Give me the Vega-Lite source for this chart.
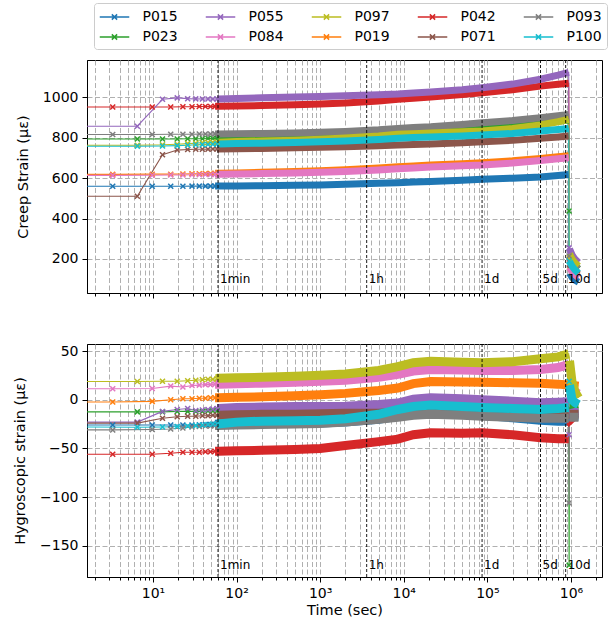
{
"$schema":"https://vega.github.io/schema/vega-lite/v6.json",
"padding":{"left":12,"top":2,"right":0,"bottom":2},
"config":{
 "font":"DejaVu Sans",
 "view":{"stroke":"black","strokeWidth":1},
 "axis":{"domainColor":"black","tickColor":"black","labelColor":"black","titleColor":"black","labelFontSize":14,"titleFontSize":14.5,"titleFontWeight":"normal","gridColor":"#b0b0b0","gridDash":[5,2.5],"gridWidth":1,"tickWidth":1,"domainWidth":1,"labelPadding":4,"titlePadding":12,"labelFont":"DejaVu Sans","titleFont":"DejaVu Sans"},
 "concat":{"spacing":44}
},
"datasets":{
"ev":[{"lab":"1min","t":60},{"lab":"1h","t":3600},{"lab":"1d","t":86400},{"lab":"5d","t":432000},{"lab":"10d","t":864000}],
"d":[
{"id":"P015","t":1,"c":559,"h":-26,"ph":"load"},
{"id":"P015","t":3.3,"c":559,"h":-26,"ph":"load"},
{"id":"P015","t":9.8,"c":559,"h":-26,"ph":"load"},
{"id":"P015","t":16.3,"c":559,"h":-26,"ph":"load"},
{"id":"P015","t":22.8,"c":559,"h":-26,"ph":"load"},
{"id":"P015","t":29.3,"c":560,"h":-26,"ph":"load"},
{"id":"P015","t":35.8,"c":560,"h":-25.8,"ph":"load"},
{"id":"P015","t":42.3,"c":560,"h":-25.5,"ph":"load"},
{"id":"P015","t":48.8,"c":560,"h":-25.5,"ph":"load"},
{"id":"P015","t":55.3,"c":560,"h":-25.2,"ph":"load"},
{"id":"P015","t":60,"c":560,"h":-25,"ph":"load"},
{"id":"P015","t":100,"c":561,"h":-24.5,"ph":"load"},
{"id":"P015","t":200,"c":562,"h":-24.5,"ph":"load"},
{"id":"P015","t":500,"c":564,"h":-24.5,"ph":"load"},
{"id":"P015","t":1000,"c":566,"h":-24,"ph":"load"},
{"id":"P015","t":2000,"c":569,"h":-23,"ph":"load"},
{"id":"P015","t":5000,"c":574,"h":-20,"ph":"load"},
{"id":"P015","t":8500,"c":577,"h":-17,"ph":"load"},
{"id":"P015","t":13000,"c":580,"h":-14.5,"ph":"load"},
{"id":"P015","t":21000,"c":583,"h":-13.6,"ph":"load"},
{"id":"P015","t":50000,"c":589,"h":-15,"ph":"load"},
{"id":"P015","t":86400,"c":594,"h":-16,"ph":"load"},
{"id":"P015","t":200000,"c":599,"h":-18.5,"ph":"load"},
{"id":"P015","t":432000,"c":605,"h":-21,"ph":"load"},
{"id":"P015","t":700000,"c":612,"h":-22,"ph":"load"},
{"id":"P015","t":940000,"c":617,"h":-22,"ph":"load"},
{"id":"P015","t":960000,"c":130,"h":-18,"ph":"unload"},
{"id":"P015","t":1030000,"c":110,"h":-18,"ph":"unload"},
{"id":"P015","t":1120000,"c":95,"h":-17,"ph":"unload"},
{"id":"P015","t":1230000,"c":86,"h":-17,"ph":"unload"},
{"id":"P019","t":1,"c":618,"h":-2.4,"ph":"load"},
{"id":"P019","t":3.3,"c":618,"h":-2.4,"ph":"load"},
{"id":"P019","t":9.8,"c":619,"h":-1.7,"ph":"load"},
{"id":"P019","t":16.3,"c":619,"h":0,"ph":"load"},
{"id":"P019","t":22.8,"c":620,"h":1,"ph":"load"},
{"id":"P019","t":29.3,"c":621,"h":1,"ph":"load"},
{"id":"P019","t":35.8,"c":621,"h":1.5,"ph":"load"},
{"id":"P019","t":42.3,"c":622,"h":1.5,"ph":"load"},
{"id":"P019","t":48.8,"c":622,"h":2,"ph":"load"},
{"id":"P019","t":55.3,"c":623,"h":2,"ph":"load"},
{"id":"P019","t":60,"c":623,"h":2,"ph":"load"},
{"id":"P019","t":100,"c":625,"h":2.5,"ph":"load"},
{"id":"P019","t":200,"c":628,"h":3,"ph":"load"},
{"id":"P019","t":500,"c":632,"h":4,"ph":"load"},
{"id":"P019","t":1000,"c":636,"h":5,"ph":"load"},
{"id":"P019","t":2000,"c":641,"h":6.5,"ph":"load"},
{"id":"P019","t":5000,"c":650,"h":9.5,"ph":"load"},
{"id":"P019","t":8500,"c":656,"h":12,"ph":"load"},
{"id":"P019","t":13000,"c":660,"h":16.5,"ph":"load"},
{"id":"P019","t":21000,"c":664,"h":18.6,"ph":"load"},
{"id":"P019","t":50000,"c":671,"h":18.3,"ph":"load"},
{"id":"P019","t":86400,"c":676,"h":18,"ph":"load"},
{"id":"P019","t":200000,"c":685,"h":17.5,"ph":"load"},
{"id":"P019","t":432000,"c":697,"h":17,"ph":"load"},
{"id":"P019","t":700000,"c":705,"h":16,"ph":"load"},
{"id":"P019","t":940000,"c":710,"h":15,"ph":"load"},
{"id":"P019","t":960000,"c":160,"h":15,"ph":"unload"},
{"id":"P019","t":1030000,"c":140,"h":15,"ph":"unload"},
{"id":"P019","t":1120000,"c":125,"h":14.5,"ph":"unload"},
{"id":"P019","t":1230000,"c":112,"h":14,"ph":"unload"},
{"id":"P023","t":1,"c":793,"h":-12.5,"ph":"load"},
{"id":"P023","t":6.5,"c":793,"h":-12.5,"ph":"load"},
{"id":"P023","t":13,"c":793,"h":-12.5,"ph":"load"},
{"id":"P023","t":19.5,"c":793,"h":-12,"ph":"load"},
{"id":"P023","t":26,"c":794,"h":-12,"ph":"load"},
{"id":"P023","t":32.5,"c":794,"h":-12,"ph":"load"},
{"id":"P023","t":39,"c":794,"h":-12,"ph":"load"},
{"id":"P023","t":45.5,"c":795,"h":-11.5,"ph":"load"},
{"id":"P023","t":52,"c":795,"h":-11.5,"ph":"load"},
{"id":"P023","t":58.5,"c":795,"h":-11.5,"ph":"load"},
{"id":"P023","t":60,"c":795,"h":-11.5,"ph":"load"},
{"id":"P023","t":100,"c":796,"h":-11,"ph":"load"},
{"id":"P023","t":200,"c":798,"h":-11,"ph":"load"},
{"id":"P023","t":500,"c":801,"h":-10.5,"ph":"load"},
{"id":"P023","t":1000,"c":805,"h":-10,"ph":"load"},
{"id":"P023","t":2000,"c":810,"h":-10,"ph":"load"},
{"id":"P023","t":5000,"c":820,"h":-9,"ph":"load"},
{"id":"P023","t":8500,"c":829,"h":-7,"ph":"load"},
{"id":"P023","t":13000,"c":832,"h":-4.5,"ph":"load"},
{"id":"P023","t":21000,"c":834,"h":-3,"ph":"load"},
{"id":"P023","t":50000,"c":840,"h":-4,"ph":"load"},
{"id":"P023","t":86400,"c":845,"h":-5,"ph":"load"},
{"id":"P023","t":200000,"c":856,"h":-6,"ph":"load"},
{"id":"P023","t":432000,"c":870,"h":-7,"ph":"load"},
{"id":"P023","t":700000,"c":880,"h":-6,"ph":"load"},
{"id":"P023","t":940000,"c":887,"h":-5,"ph":"load"},
{"id":"P023","t":950000,"c":437,"h":-170,"ph":"jump"},
{"id":"P023","t":960000,"c":210,"h":-8,"ph":"unload"},
{"id":"P023","t":1030000,"c":185,"h":-8,"ph":"unload"},
{"id":"P023","t":1120000,"c":165,"h":-8,"ph":"unload"},
{"id":"P023","t":1230000,"c":150,"h":-8,"ph":"unload"},
{"id":"P042","t":1,"c":951,"h":-56,"ph":"load"},
{"id":"P042","t":3.3,"c":951,"h":-56,"ph":"load"},
{"id":"P042","t":9.8,"c":951,"h":-56,"ph":"load"},
{"id":"P042","t":16.3,"c":951,"h":-55,"ph":"load"},
{"id":"P042","t":22.8,"c":952,"h":-54,"ph":"load"},
{"id":"P042","t":29.3,"c":952,"h":-54,"ph":"load"},
{"id":"P042","t":35.8,"c":953,"h":-54,"ph":"load"},
{"id":"P042","t":42.3,"c":953,"h":-53.5,"ph":"load"},
{"id":"P042","t":48.8,"c":953,"h":-53.5,"ph":"load"},
{"id":"P042","t":55.3,"c":954,"h":-53,"ph":"load"},
{"id":"P042","t":60,"c":954,"h":-53,"ph":"load"},
{"id":"P042","t":100,"c":956,"h":-52.5,"ph":"load"},
{"id":"P042","t":200,"c":958,"h":-52,"ph":"load"},
{"id":"P042","t":500,"c":962,"h":-51,"ph":"load"},
{"id":"P042","t":1000,"c":966,"h":-50,"ph":"load"},
{"id":"P042","t":2000,"c":971,"h":-47,"ph":"load"},
{"id":"P042","t":5000,"c":980,"h":-43,"ph":"load"},
{"id":"P042","t":8500,"c":989,"h":-40.5,"ph":"load"},
{"id":"P042","t":13000,"c":994,"h":-36,"ph":"load"},
{"id":"P042","t":21000,"c":1000,"h":-34,"ph":"load"},
{"id":"P042","t":50000,"c":1012,"h":-34.5,"ph":"load"},
{"id":"P042","t":86400,"c":1021,"h":-34,"ph":"load"},
{"id":"P042","t":200000,"c":1036,"h":-36,"ph":"load"},
{"id":"P042","t":432000,"c":1054,"h":-39,"ph":"load"},
{"id":"P042","t":700000,"c":1063,"h":-40,"ph":"load"},
{"id":"P042","t":940000,"c":1068,"h":-40,"ph":"load"},
{"id":"P042","t":960000,"c":205,"h":-22,"ph":"unload"},
{"id":"P042","t":1030000,"c":180,"h":-25,"ph":"unload"},
{"id":"P055","t":1,"c":856,"h":-23,"ph":"load"},
{"id":"P055","t":6.5,"c":856,"h":-23,"ph":"load"},
{"id":"P055","t":13,"c":989,"h":-12,"ph":"load"},
{"id":"P055","t":19.5,"c":996,"h":-10,"ph":"load"},
{"id":"P055","t":26,"c":992,"h":-9,"ph":"load"},
{"id":"P055","t":32.5,"c":991,"h":-11,"ph":"load"},
{"id":"P055","t":39,"c":990,"h":-10.5,"ph":"load"},
{"id":"P055","t":45.5,"c":990,"h":-10,"ph":"load"},
{"id":"P055","t":52,"c":990,"h":-9.5,"ph":"load"},
{"id":"P055","t":58.5,"c":990,"h":-9,"ph":"load"},
{"id":"P055","t":60,"c":990,"h":-9,"ph":"load"},
{"id":"P055","t":100,"c":993,"h":-8,"ph":"load"},
{"id":"P055","t":200,"c":996,"h":-7.5,"ph":"load"},
{"id":"P055","t":500,"c":1000,"h":-7,"ph":"load"},
{"id":"P055","t":1000,"c":1003,"h":-7,"ph":"load"},
{"id":"P055","t":2000,"c":1007,"h":-6.8,"ph":"load"},
{"id":"P055","t":5000,"c":1011,"h":-5,"ph":"load"},
{"id":"P055","t":8500,"c":1015,"h":-3.4,"ph":"load"},
{"id":"P055","t":13000,"c":1020,"h":0.5,"ph":"load"},
{"id":"P055","t":21000,"c":1025,"h":2,"ph":"load"},
{"id":"P055","t":50000,"c":1036,"h":1,"ph":"load"},
{"id":"P055","t":86400,"c":1046,"h":0,"ph":"load"},
{"id":"P055","t":200000,"c":1064,"h":-1.5,"ph":"load"},
{"id":"P055","t":432000,"c":1088,"h":-3,"ph":"load"},
{"id":"P055","t":700000,"c":1108,"h":-2.5,"ph":"load"},
{"id":"P055","t":940000,"c":1122,"h":-2,"ph":"load"},
{"id":"P055","t":950000,"c":255,"h":-36,"ph":"jump"},
{"id":"P055","t":960000,"c":250,"h":-15,"ph":"unload"},
{"id":"P055","t":1030000,"c":220,"h":-14,"ph":"unload"},
{"id":"P055","t":1120000,"c":198,"h":-13,"ph":"unload"},
{"id":"P055","t":1230000,"c":182,"h":-13,"ph":"unload"},
{"id":"P071","t":1,"c":510,"h":-24,"ph":"load"},
{"id":"P071","t":6.5,"c":510,"h":-24,"ph":"load"},
{"id":"P071","t":13,"c":715,"h":-19,"ph":"load"},
{"id":"P071","t":19.5,"c":738,"h":-17.5,"ph":"load"},
{"id":"P071","t":26,"c":741,"h":-17,"ph":"load"},
{"id":"P071","t":32.5,"c":742,"h":-17,"ph":"load"},
{"id":"P071","t":39,"c":742,"h":-16.5,"ph":"load"},
{"id":"P071","t":45.5,"c":742,"h":-16.5,"ph":"load"},
{"id":"P071","t":52,"c":743,"h":-16,"ph":"load"},
{"id":"P071","t":58.5,"c":743,"h":-16,"ph":"load"},
{"id":"P071","t":60,"c":743,"h":-16,"ph":"load"},
{"id":"P071","t":100,"c":744,"h":-15.5,"ph":"load"},
{"id":"P071","t":200,"c":746,"h":-15,"ph":"load"},
{"id":"P071","t":500,"c":749,"h":-15,"ph":"load"},
{"id":"P071","t":1000,"c":752,"h":-14.5,"ph":"load"},
{"id":"P071","t":2000,"c":755,"h":-14,"ph":"load"},
{"id":"P071","t":5000,"c":760,"h":-14,"ph":"load"},
{"id":"P071","t":8500,"c":763,"h":-13.6,"ph":"load"},
{"id":"P071","t":13000,"c":766,"h":-12,"ph":"load"},
{"id":"P071","t":21000,"c":768,"h":-11,"ph":"load"},
{"id":"P071","t":50000,"c":774,"h":-12.5,"ph":"load"},
{"id":"P071","t":86400,"c":779,"h":-13.6,"ph":"load"},
{"id":"P071","t":200000,"c":786,"h":-15,"ph":"load"},
{"id":"P071","t":432000,"c":796,"h":-17,"ph":"load"},
{"id":"P071","t":700000,"c":803,"h":-16,"ph":"load"},
{"id":"P071","t":940000,"c":807,"h":-15,"ph":"load"},
{"id":"P071","t":960000,"c":175,"h":-15,"ph":"unload"},
{"id":"P071","t":1030000,"c":155,"h":-15,"ph":"unload"},
{"id":"P071","t":1120000,"c":138,"h":-15,"ph":"unload"},
{"id":"P071","t":1230000,"c":124,"h":-15,"ph":"unload"},
{"id":"P084","t":1,"c":613,"h":11.3,"ph":"load"},
{"id":"P084","t":3.3,"c":613,"h":11.3,"ph":"load"},
{"id":"P084","t":9.8,"c":614,"h":11.5,"ph":"load"},
{"id":"P084","t":16.3,"c":615,"h":14,"ph":"load"},
{"id":"P084","t":22.8,"c":615,"h":13,"ph":"load"},
{"id":"P084","t":29.3,"c":616,"h":14.5,"ph":"load"},
{"id":"P084","t":35.8,"c":616,"h":15,"ph":"load"},
{"id":"P084","t":42.3,"c":617,"h":15.5,"ph":"load"},
{"id":"P084","t":48.8,"c":617,"h":15.5,"ph":"load"},
{"id":"P084","t":55.3,"c":618,"h":16,"ph":"load"},
{"id":"P084","t":60,"c":618,"h":16,"ph":"load"},
{"id":"P084","t":100,"c":620,"h":16.5,"ph":"load"},
{"id":"P084","t":200,"c":622,"h":17,"ph":"load"},
{"id":"P084","t":500,"c":625,"h":18,"ph":"load"},
{"id":"P084","t":1000,"c":628,"h":19,"ph":"load"},
{"id":"P084","t":2000,"c":632,"h":20,"ph":"load"},
{"id":"P084","t":5000,"c":640,"h":23,"ph":"load"},
{"id":"P084","t":8500,"c":646,"h":26,"ph":"load"},
{"id":"P084","t":13000,"c":650,"h":29.5,"ph":"load"},
{"id":"P084","t":21000,"c":654,"h":31,"ph":"load"},
{"id":"P084","t":50000,"c":660,"h":30.5,"ph":"load"},
{"id":"P084","t":86400,"c":664,"h":30,"ph":"load"},
{"id":"P084","t":200000,"c":674,"h":30,"ph":"load"},
{"id":"P084","t":432000,"c":687,"h":31,"ph":"load"},
{"id":"P084","t":700000,"c":695,"h":33,"ph":"load"},
{"id":"P084","t":940000,"c":700,"h":36,"ph":"load"},
{"id":"P084","t":960000,"c":158,"h":12,"ph":"unload"},
{"id":"P084","t":1030000,"c":138,"h":10,"ph":"unload"},
{"id":"P084","t":1120000,"c":122,"h":8,"ph":"unload"},
{"id":"P084","t":1230000,"c":108,"h":6,"ph":"unload"},
{"id":"P093","t":1,"c":815,"h":-31,"ph":"load"},
{"id":"P093","t":3.3,"c":815,"h":-31,"ph":"load"},
{"id":"P093","t":9.8,"c":815,"h":-30.6,"ph":"load"},
{"id":"P093","t":16.3,"c":816,"h":-30,"ph":"load"},
{"id":"P093","t":22.8,"c":816,"h":-29,"ph":"load"},
{"id":"P093","t":29.3,"c":816,"h":-28,"ph":"load"},
{"id":"P093","t":35.8,"c":817,"h":-27.5,"ph":"load"},
{"id":"P093","t":42.3,"c":817,"h":-27,"ph":"load"},
{"id":"P093","t":48.8,"c":817,"h":-27,"ph":"load"},
{"id":"P093","t":55.3,"c":818,"h":-26.5,"ph":"load"},
{"id":"P093","t":60,"c":818,"h":-26.5,"ph":"load"},
{"id":"P093","t":100,"c":819,"h":-26,"ph":"load"},
{"id":"P093","t":200,"c":820,"h":-25.5,"ph":"load"},
{"id":"P093","t":500,"c":823,"h":-25,"ph":"load"},
{"id":"P093","t":1000,"c":826,"h":-24.5,"ph":"load"},
{"id":"P093","t":2000,"c":830,"h":-23,"ph":"load"},
{"id":"P093","t":5000,"c":838,"h":-20,"ph":"load"},
{"id":"P093","t":8500,"c":845,"h":-18,"ph":"load"},
{"id":"P093","t":13000,"c":849,"h":-16,"ph":"load"},
{"id":"P093","t":21000,"c":853,"h":-15,"ph":"load"},
{"id":"P093","t":50000,"c":864,"h":-16,"ph":"load"},
{"id":"P093","t":86400,"c":873,"h":-17,"ph":"load"},
{"id":"P093","t":200000,"c":884,"h":-18,"ph":"load"},
{"id":"P093","t":432000,"c":898,"h":-19,"ph":"load"},
{"id":"P093","t":700000,"c":908,"h":-19,"ph":"load"},
{"id":"P093","t":940000,"c":914,"h":-19,"ph":"load"},
{"id":"P093","t":950000,"c":215,"h":-106,"ph":"jump"},
{"id":"P093","t":960000,"c":212,"h":-18,"ph":"unload"},
{"id":"P093","t":1030000,"c":188,"h":-18,"ph":"unload"},
{"id":"P093","t":1120000,"c":168,"h":-18,"ph":"unload"},
{"id":"P093","t":1230000,"c":152,"h":-18,"ph":"unload"},
{"id":"P097","t":1,"c":762,"h":18.7,"ph":"load"},
{"id":"P097","t":6.5,"c":762,"h":18.7,"ph":"load"},
{"id":"P097","t":13,"c":764,"h":19,"ph":"load"},
{"id":"P097","t":19.5,"c":767,"h":19,"ph":"load"},
{"id":"P097","t":26,"c":770,"h":19.5,"ph":"load"},
{"id":"P097","t":32.5,"c":772,"h":20,"ph":"load"},
{"id":"P097","t":39,"c":774,"h":20.5,"ph":"load"},
{"id":"P097","t":45.5,"c":775,"h":21,"ph":"load"},
{"id":"P097","t":52,"c":776,"h":21,"ph":"load"},
{"id":"P097","t":58.5,"c":777,"h":21.5,"ph":"load"},
{"id":"P097","t":60,"c":777,"h":22,"ph":"load"},
{"id":"P097","t":100,"c":780,"h":22.5,"ph":"load"},
{"id":"P097","t":200,"c":783,"h":23,"ph":"load"},
{"id":"P097","t":500,"c":787,"h":24,"ph":"load"},
{"id":"P097","t":1000,"c":792,"h":25,"ph":"load"},
{"id":"P097","t":2000,"c":798,"h":26.5,"ph":"load"},
{"id":"P097","t":5000,"c":808,"h":30,"ph":"load"},
{"id":"P097","t":8500,"c":816,"h":34,"ph":"load"},
{"id":"P097","t":13000,"c":819,"h":38,"ph":"load"},
{"id":"P097","t":21000,"c":822,"h":39.5,"ph":"load"},
{"id":"P097","t":50000,"c":828,"h":38.5,"ph":"load"},
{"id":"P097","t":86400,"c":832,"h":38,"ph":"load"},
{"id":"P097","t":200000,"c":845,"h":39,"ph":"load"},
{"id":"P097","t":432000,"c":862,"h":42,"ph":"load"},
{"id":"P097","t":700000,"c":878,"h":44,"ph":"load"},
{"id":"P097","t":940000,"c":890,"h":47,"ph":"load"},
{"id":"P097","t":960000,"c":225,"h":40,"ph":"unload"},
{"id":"P097","t":1030000,"c":200,"h":18,"ph":"unload"},
{"id":"P097","t":1120000,"c":180,"h":8,"ph":"unload"},
{"id":"P097","t":1230000,"c":165,"h":2,"ph":"unload"},
{"id":"P100","t":1,"c":757,"h":-28,"ph":"load"},
{"id":"P100","t":6.5,"c":757,"h":-28.3,"ph":"load"},
{"id":"P100","t":13,"c":758,"h":-28,"ph":"load"},
{"id":"P100","t":19.5,"c":760,"h":-27.5,"ph":"load"},
{"id":"P100","t":26,"c":762,"h":-27,"ph":"load"},
{"id":"P100","t":32.5,"c":764,"h":-26.5,"ph":"load"},
{"id":"P100","t":39,"c":765,"h":-26,"ph":"load"},
{"id":"P100","t":45.5,"c":766,"h":-25.5,"ph":"load"},
{"id":"P100","t":52,"c":767,"h":-25,"ph":"load"},
{"id":"P100","t":58.5,"c":768,"h":-25,"ph":"load"},
{"id":"P100","t":60,"c":768,"h":-25,"ph":"load"},
{"id":"P100","t":100,"c":770,"h":-23,"ph":"load"},
{"id":"P100","t":200,"c":772,"h":-22,"ph":"load"},
{"id":"P100","t":500,"c":776,"h":-21.5,"ph":"load"},
{"id":"P100","t":1000,"c":779,"h":-21,"ph":"load"},
{"id":"P100","t":2000,"c":783,"h":-19.5,"ph":"load"},
{"id":"P100","t":5000,"c":790,"h":-15,"ph":"load"},
{"id":"P100","t":8500,"c":796,"h":-10,"ph":"load"},
{"id":"P100","t":13000,"c":800,"h":-7,"ph":"load"},
{"id":"P100","t":21000,"c":803,"h":-5.4,"ph":"load"},
{"id":"P100","t":50000,"c":808,"h":-7,"ph":"load"},
{"id":"P100","t":86400,"c":812,"h":-8,"ph":"load"},
{"id":"P100","t":200000,"c":820,"h":-9,"ph":"load"},
{"id":"P100","t":432000,"c":832,"h":-10,"ph":"load"},
{"id":"P100","t":700000,"c":840,"h":-9,"ph":"load"},
{"id":"P100","t":940000,"c":845,"h":-8,"ph":"load"},
{"id":"P100","t":950000,"c":190,"h":19,"ph":"jump"},
{"id":"P100","t":960000,"c":188,"h":15,"ph":"unload"},
{"id":"P100","t":1030000,"c":165,"h":0,"ph":"unload"},
{"id":"P100","t":1120000,"c":145,"h":-3,"ph":"unload"},
{"id":"P100","t":1230000,"c":130,"h":-5,"ph":"unload"}
]},
"vconcat":[
{"width":515,"height":233,"data":{"name":"d"},
 "layer":[
  {"mark":{"type":"line","strokeWidth":1.1,"clip":true},
   "encoding":{
    "x":{"field":"t","type":"quantitative","scale":{"type":"log","domain":[1.625,2350000],"nice":false},
      "axis":{"title":null,"labels":false,"grid":true,"values":[2,3,4,5,6,7,8,9,10,20,30,40,50,60,70,80,90,100,200,300,400,500,600,700,800,900,1000,2000,3000,4000,5000,6000,7000,8000,9000,10000,20000,30000,40000,50000,60000,70000,80000,90000,100000,200000,300000,400000,500000,600000,700000,800000,900000,1000000,2000000],
       "tickSize":{"condition":{"test":"abs(log(datum.value)/LN10 - round(log(datum.value)/LN10)) < 1e-6","value":5},"value":3}}},
    "y":{"field":"c","type":"quantitative","scale":{"domain":[32,1183],"nice":false,"zero":false},"axis":{"title":"Creep Strain (με)","format":"d","values":[200,400,600,800,1000],"grid":true,"tickSize":5}},
    "color":{"field":"id","type":"nominal","scale":{"domain":["P015","P023","P055","P084","P097","P019","P042","P071","P093","P100"],"range":["#1f77b4","#2ca02c","#9467bd","#e377c2","#bcbd22","#ff7f0e","#d62728","#8c564b","#7f7f7f","#17becf"]},
      "legend":{"orient":"none","legendX":7,"legendY":-57,"columns":5,"title":null,"symbolType":"M-1.03,0L2.66,0M0.48,-0.33L1.14,0.33M0.48,0.33L1.14,-0.33","symbolSize":256,"symbolStrokeWidth":1.5,"labelFontSize":14,"labelOffset":25.5,"columnPadding":24,"rowPadding":4,"padding":5,"strokeColor":"#cccccc","fillColor":"white","cornerRadius":3}},
    "order":{"field":"t","type":"quantitative"}}},
  {"transform":[{"filter":"(datum.ph=='load' && datum.t>=55) || datum.ph=='unload'"}],
   "mark":{"type":"line","strokeWidth":7,"clip":true},
   "encoding":{
    "x":{"field":"t","type":"quantitative"},
    "y":{"field":"c","type":"quantitative"},
    "color":{"field":"id","type":"nominal"},
    "detail":{"field":"ph","type":"nominal"},
    "order":{"field":"t","type":"quantitative"}}},
  {"transform":[{"filter":"datum.t<60 || datum.ph=='jump'"}],
   "mark":{"type":"point","shape":"M-1,-1L1,1M-1,1L1,-1","size":25,"filled":false,"strokeWidth":1.5,"opacity":1,"clip":true},
   "encoding":{
    "x":{"field":"t","type":"quantitative"},
    "y":{"field":"c","type":"quantitative"},
    "color":{"field":"id","type":"nominal"}}},
  {"data":{"name":"ev"},"mark":{"type":"rule","color":"black","strokeDash":[3,2],"strokeWidth":0.9},
   "encoding":{"x":{"field":"t","type":"quantitative"}}},
  {"data":{"name":"ev"},"mark":{"type":"text","align":"left","baseline":"middle","dx":2,"fontSize":12,"color":"black"},
   "encoding":{"x":{"field":"t","type":"quantitative"},"y":{"datum":100,"type":"quantitative"},"text":{"field":"lab"}}}
 ]},
{"width":515,"height":233,"data":{"name":"d"},
 "layer":[
  {"mark":{"type":"line","strokeWidth":1.1,"clip":true},
   "encoding":{
    "x":{"field":"t","type":"quantitative","scale":{"type":"log","domain":[1.625,2350000],"nice":false},
      "axis":{"title":"Time (sec)","titlePadding":3,"grid":true,"values":[2,3,4,5,6,7,8,9,10,20,30,40,50,60,70,80,90,100,200,300,400,500,600,700,800,900,1000,2000,3000,4000,5000,6000,7000,8000,9000,10000,20000,30000,40000,50000,60000,70000,80000,90000,100000,200000,300000,400000,500000,600000,700000,800000,900000,1000000,2000000],
       "labelExpr":"abs(log(datum.value)/LN10 - round(log(datum.value)/LN10)) < 1e-6 ? '10' + ['⁰','¹','²','³','⁴','⁵','⁶','⁷'][round(log(datum.value)/LN10)] : ''",
       "tickSize":{"condition":{"test":"abs(log(datum.value)/LN10 - round(log(datum.value)/LN10)) < 1e-6","value":5},"value":3}}},
    "y":{"field":"h","type":"quantitative","scale":{"domain":[-182,57.2],"nice":false,"zero":false},"axis":{"title":"Hygroscopic strain (με)","values":[-150,-100,-50,0,50],"grid":true,"tickSize":5}},
    "color":{"field":"id","type":"nominal","scale":{"domain":["P015","P023","P055","P084","P097","P019","P042","P071","P093","P100"],"range":["#1f77b4","#2ca02c","#9467bd","#e377c2","#bcbd22","#ff7f0e","#d62728","#8c564b","#7f7f7f","#17becf"]},
      "legend":{"orient":"none","legendX":7,"legendY":-57,"columns":5,"title":null,"symbolType":"M-1.03,0L2.66,0M0.48,-0.33L1.14,0.33M0.48,0.33L1.14,-0.33","symbolSize":256,"symbolStrokeWidth":1.5,"labelFontSize":14,"labelOffset":25.5,"columnPadding":24,"rowPadding":4,"padding":5,"strokeColor":"#cccccc","fillColor":"white","cornerRadius":3}},
    "order":{"field":"t","type":"quantitative"}}},
  {"transform":[{"filter":"(datum.ph=='load' && datum.t>=55) || datum.ph=='unload'"}],
   "mark":{"type":"line","strokeWidth":9,"clip":true},
   "encoding":{
    "x":{"field":"t","type":"quantitative"},
    "y":{"field":"h","type":"quantitative"},
    "color":{"field":"id","type":"nominal"},
    "detail":{"field":"ph","type":"nominal"},
    "order":{"field":"t","type":"quantitative"}}},
  {"transform":[{"filter":"datum.t<60 || datum.ph=='jump'"}],
   "mark":{"type":"point","shape":"M-1,-1L1,1M-1,1L1,-1","size":25,"filled":false,"strokeWidth":1.5,"opacity":1,"clip":true},
   "encoding":{
    "x":{"field":"t","type":"quantitative"},
    "y":{"field":"h","type":"quantitative"},
    "color":{"field":"id","type":"nominal"}}},
  {"data":{"name":"ev"},"mark":{"type":"rule","color":"black","strokeDash":[3,2],"strokeWidth":0.9},
   "encoding":{"x":{"field":"t","type":"quantitative"}}},
  {"data":{"name":"ev"},"mark":{"type":"text","align":"left","baseline":"middle","dx":2,"fontSize":12,"color":"black"},
   "encoding":{"x":{"field":"t","type":"quantitative"},"y":{"datum":-170,"type":"quantitative"},"text":{"field":"lab"}}}
 ]}
]
}
